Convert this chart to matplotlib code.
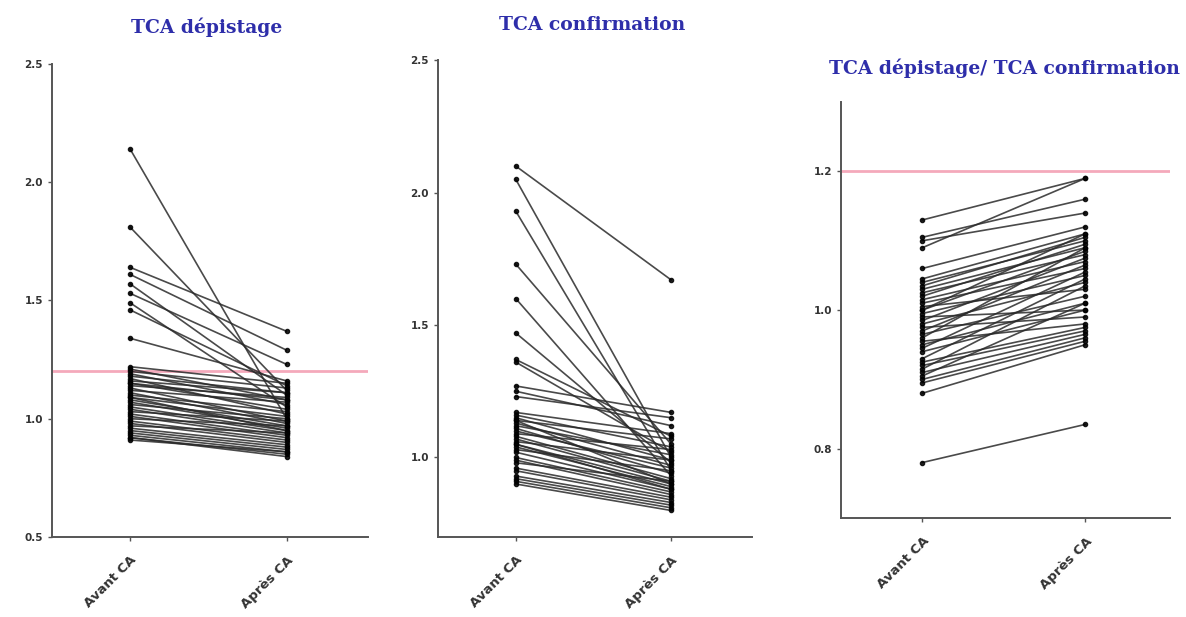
import matplotlib.pyplot as plt

# paired values, before / after CA
avant_dep = [2.14, 1.81, 1.64, 1.61, 1.57, 1.53, 1.49, 1.46, 1.34, 1.22,
             1.21, 1.20, 1.19, 1.18, 1.17, 1.16, 1.15, 1.15, 1.14, 1.13,
             1.12, 1.11, 1.10, 1.09, 1.09, 1.08, 1.07, 1.06, 1.05, 1.04,
             1.03, 1.02, 1.01, 1.00, 0.99, 0.98, 0.97, 0.96, 0.95, 0.94,
             0.93, 0.92, 0.92, 0.91]
apres_dep = [1.00, 1.12, 1.37, 1.29, 1.10, 1.23, 1.05, 1.14, 1.16, 1.15,
             1.08, 1.13, 1.06, 1.11, 1.02, 1.11, 1.04, 1.08, 1.09, 0.99,
             1.07, 0.98, 1.03, 1.01, 0.95, 0.97, 0.96, 1.00, 0.95, 0.94,
             0.99, 0.93, 0.92, 0.97, 0.91, 0.90, 0.94, 0.89, 0.88, 0.87,
             0.86, 0.85, 0.84, 0.86]

avant_conf = [2.10, 2.05, 1.93, 1.73, 1.60, 1.47, 1.37, 1.36, 1.27, 1.25,
              1.23, 1.17, 1.16, 1.15, 1.14, 1.14, 1.13, 1.12, 1.11, 1.10,
              1.09, 1.08, 1.07, 1.06, 1.05, 1.05, 1.04, 1.03, 1.02, 1.00,
              0.99, 0.98, 0.96, 0.95, 0.93, 0.92, 0.91, 0.90]
apres_conf = [1.67, 1.00, 0.95, 1.05, 0.93, 0.98, 1.08, 1.02, 1.17, 1.12,
              1.15, 1.09, 1.04, 0.99, 1.07, 0.90, 0.97, 1.01, 0.94, 0.96,
              1.03, 0.92, 0.91, 0.99, 0.90, 0.88, 0.89, 0.95, 0.88, 0.87,
              0.86, 0.91, 0.85, 0.84, 0.83, 0.82, 0.81, 0.80]

avant_ratio = [1.13, 1.105, 1.10, 1.09, 1.06, 1.045, 1.04, 1.035, 1.03, 1.025,
               1.02, 1.015, 1.01, 1.005, 1.00, 1.00, 0.995, 0.99, 0.985, 0.98,
               0.975, 0.97, 0.965, 0.96, 0.955, 0.95, 0.945, 0.94, 0.93, 0.925,
               0.92, 0.915, 0.91, 0.905, 0.90, 0.895, 0.88, 0.78]
apres_ratio = [1.19, 1.16, 1.14, 1.19, 1.12, 1.11, 1.10, 1.105, 1.09, 1.08,
               1.095, 1.07, 1.06, 1.03, 1.085, 1.11, 1.05, 1.00, 1.075, 1.04,
               0.99, 1.065, 1.02, 1.09, 0.98, 1.01, 1.055, 1.00, 1.045, 0.975,
               0.97, 1.035, 0.965, 1.01, 0.96, 0.955, 0.95, 0.835]

groups = ["Avant CA", "Après CA"]

PANELS = [
    {"title": "TCA dépistage", "avant": avant_dep, "apres": apres_dep,
     "rect": [0.0438, 0.1297, 0.2664, 0.7666], "ylim": (0.5, 2.5),
     "yticks": [0.5, 1.0, 1.5, 2.0, 2.5], "cut": 1.2, "title_xy": (207, 27)},
    {"title": "TCA confirmation", "avant": avant_conf, "apres": apres_conf,
     "rect": [0.3693, 0.1297, 0.2648, 0.7730], "ylim": (0.7, 2.5),
     "yticks": [1.0, 1.5, 2.0, 2.5], "cut": None, "title_xy": (592, 25)},
    {"title": "TCA dépistage/ TCA confirmation", "avant": avant_ratio, "apres": apres_ratio,
     "rect": [0.7091, 0.1605, 0.2774, 0.6740], "ylim": (0.7, 1.3),
     "yticks": [0.8, 1.0, 1.2], "cut": 1.2, "title_xy": (1004, 68)},
]

W, H = 1186, 617
fig = plt.figure(figsize=(W / 100, H / 100), dpi=100)

for p in PANELS:
    ax = fig.add_axes(p["rect"])
    for a, b in zip(p["avant"], p["apres"]):
        ax.plot([0, 1], [a, b], color="#2a2a2a", lw=1.2, alpha=0.85,
                marker="o", ms=3, mfc="black", mec="black")
    if p["cut"] is not None:
        ax.axhline(p["cut"], color="#f4a9bb", lw=2, zorder=0)

    ax.set_xlim(-0.5, 1.52)
    ax.set_ylim(*p["ylim"])
    ax.set_yticks(p["yticks"])
    ax.set_yticklabels([f"{t:.1f}" for t in p["yticks"]],
                       fontsize=7.5, fontweight="bold", color="#333333")
    ax.set_xticks([0, 1])
    ax.set_xticklabels(groups, rotation=45, ha="right", rotation_mode="anchor",
                       fontsize=9.5, fontweight="bold", color="#333333")
    ax.tick_params(axis="x", pad=9)

    for side in ("top", "right"):
        ax.spines[side].set_visible(False)
    for side in ("left", "bottom"):
        ax.spines[side].set_color("#555555")
        ax.spines[side].set_linewidth(1.4)
    ax.tick_params(length=3, width=1, color="#555555")

    tx, ty = p["title_xy"]
    fig.text(tx / W, 1 - ty / H, p["title"], ha="center", va="center",
             fontsize=13.5, fontweight="bold", family="DejaVu Serif", color="#2e2eaa")

fig.savefig("out.png", dpi=100, facecolor="white")
